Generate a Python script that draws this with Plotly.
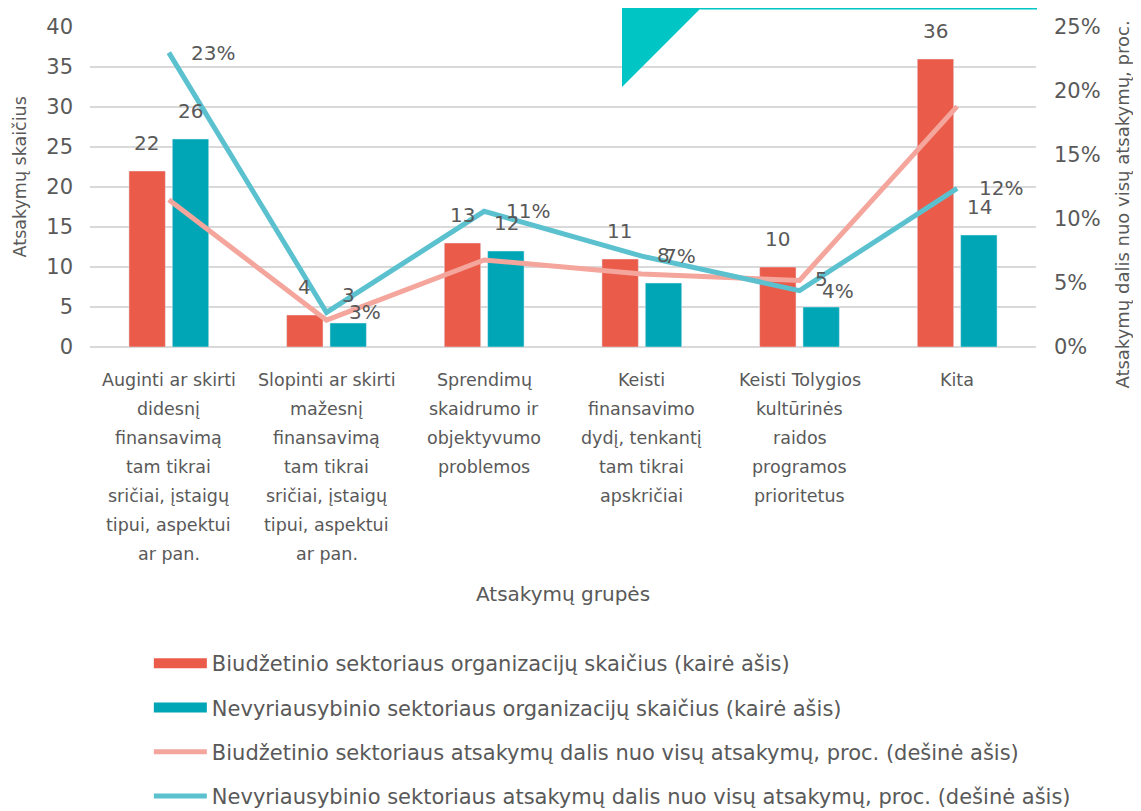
import plotly.graph_objects as go

FONT = "'DejaVu Sans', sans-serif"
TEXT = "#595959"
GRID = "#D9D9D9"
RED = "#EA5B4A"
TEAL = "#00A6B6"
PINK = "#F4A59C"
TEAL_LINE = "#5BC1CF"

category_lines = [
    ["Auginti ar skirti", "didesnį", "finansavimą", "tam tikrai", "sričiai, įstaigų", "tipui, aspektui", "ar pan."],
    ["Slopinti ar skirti", "mažesnį", "finansavimą", "tam tikrai", "sričiai, įstaigų", "tipui, aspektui", "ar pan."],
    ["Sprendimų", "skaidrumo ir", "objektyvumo", "problemos"],
    ["Keisti", "finansavimo", "dydį, tenkantį", "tam tikrai", "apskričiai"],
    ["Keisti Tolygios", "kultūrinės", "raidos", "programos", "prioritetus"],
    ["Kita"],
]
categories = [" ".join(c) for c in category_lines]
budget_counts = [22, 4, 13, 11, 10, 36]
ngo_counts = [26, 3, 12, 8, 5, 14]
budget_share = [0.115, 0.021, 0.068, 0.057, 0.052, 0.188]
ngo_share = [0.230, 0.027, 0.106, 0.071, 0.044, 0.124]

names = [
    "Biudžetinio sektoriaus organizacijų skaičius (kairė ašis)",
    "Nevyriausybinio sektoriaus organizacijų skaičius (kairė ašis)",
    "Biudžetinio sektoriaus atsakymų dalis nuo visų atsakymų, proc. (dešinė ašis)",
    "Nevyriausybinio sektoriaus atsakymų dalis nuo visų atsakymų, proc. (dešinė ašis)",
]

fig = go.Figure()
fig.add_trace(go.Bar(x=categories, y=budget_counts, marker_color=RED, showlegend=False))
fig.add_trace(go.Bar(x=categories, y=ngo_counts, marker_color=TEAL, showlegend=False))
fig.add_trace(go.Scatter(
    x=categories, y=budget_share, yaxis="y2", mode="lines", showlegend=False,
    line=dict(color=PINK, width=5),
))
fig.add_trace(go.Scatter(
    x=categories, y=ngo_share, yaxis="y2", mode="lines", showlegend=False,
    line=dict(color=TEAL_LINE, width=5),
))

# legend entries (wide rectangles for bars, like the original)
for name, color, width, grp in [
    (names[0], RED, 14, "a"), (names[1], TEAL, 14, "b"),
    (names[2], PINK, 5, "c"), (names[3], TEAL_LINE, 5, "d"),
]:
    fig.add_trace(go.Scatter(
        x=[None], y=[None], mode="lines", name=name, legendgroup=grp,
        line=dict(color=color, width=width),
    ))

# value labels
for cat, v in zip(categories, budget_counts):
    fig.add_annotation(x=cat, y=v, yref="y", text=str(v), showarrow=False,
                       xshift=-22, yshift=14, yanchor="bottom",
                       font=dict(size=20, color=TEXT))
for cat, v in zip(categories, ngo_counts):
    fig.add_annotation(x=cat, y=v, yref="y", text=str(v), showarrow=False,
                       xshift=22, yshift=14, yanchor="bottom",
                       font=dict(size=20, color=TEXT))
for cat, v in zip(categories, ngo_share):
    fig.add_annotation(x=cat, y=v, yref="y2", text=f"{v:.0%}", showarrow=False,
                       xshift=20, xanchor="left", yanchor="middle",
                       font=dict(size=20, color=TEXT))

# category labels, one line at a time for the wide line spacing
for cat, lines in zip(categories, category_lines):
    for i, line in enumerate(lines):
        fig.add_annotation(x=cat, y=0, yref="paper", text=line, showarrow=False,
                           yshift=-(33 + 29 * i), yanchor="middle",
                           font=dict(size=17.5, color=TEXT))

# axis titles
fig.add_annotation(x=0.5, y=0, xref="paper", yref="paper", text="Atsakymų grupės",
                   showarrow=False, yshift=-247, yanchor="middle",
                   font=dict(size=20, color=TEXT))
fig.add_annotation(x=0, y=0.53, xref="paper", yref="paper", text="Atsakymų skaičius",
                   showarrow=False, xshift=-70, textangle=-90,
                   xanchor="center", yanchor="middle",
                   font=dict(size=17.5, color=TEXT))
fig.add_annotation(x=1, y=0.445, xref="paper", yref="paper",
                   text="Atsakymų dalis nuo visų atsakymų, proc.",
                   showarrow=False, xshift=87, textangle=-90,
                   xanchor="center", yanchor="middle",
                   font=dict(size=18, color=TEXT))

# decorative teal corner at the top (page sits 8px in from the window edge)
def px_x(p):
    return (p - 90) / 946

def px_y(p):
    return (347 - p) / 320

fig.add_shape(
    type="path", xref="paper", yref="paper",
    path=f"M {px_x(622)},{px_y(-1)} L {px_x(622)},{px_y(87)} L {px_x(710)},{px_y(-1)} Z",
    fillcolor="#00C5C5", line=dict(width=0), layer="above",
)
fig.add_shape(
    type="line", xref="paper", yref="paper",
    x0=px_x(700), x1=px_x(1037), y0=px_y(8.5), y1=px_y(8.5),
    line=dict(color="#00C5C5", width=2),
)

fig.update_layout(
    width=1133, height=803,
    paper_bgcolor="white", plot_bgcolor="white",
    font=dict(family=FONT, size=18, color=TEXT),
    margin=dict(l=82, r=105, t=19, b=464, autoexpand=False),
    barmode="group", bargap=0.45, bargroupgap=0.16,
    showlegend=True,
    legend=dict(
        x=0.0622, y=-0.925, xanchor="left", yanchor="top",
        traceorder="grouped", tracegroupgap=14,
        font=dict(size=21, color=TEXT), itemwidth=53,
    ),
    xaxis=dict(showticklabels=False, showline=False, showgrid=False, ticks="",
               automargin=False),
    yaxis=dict(
        range=[0, 40], dtick=5, tickfont=dict(size=21, color=TEXT),
        ticklabelstandoff=16, automargin=False,
        gridcolor=GRID, gridwidth=2, zeroline=True, zerolinecolor=GRID, zerolinewidth=2,
        showline=False,
    ),
    yaxis2=dict(
        overlaying="y", side="right", range=[0, 0.25], dtick=0.05, tickformat=".0%",
        tickfont=dict(size=21, color=TEXT), ticklabelstandoff=17, automargin=False,
        showgrid=False, zeroline=False,
    ),
)

fig.write_html("out.html")
